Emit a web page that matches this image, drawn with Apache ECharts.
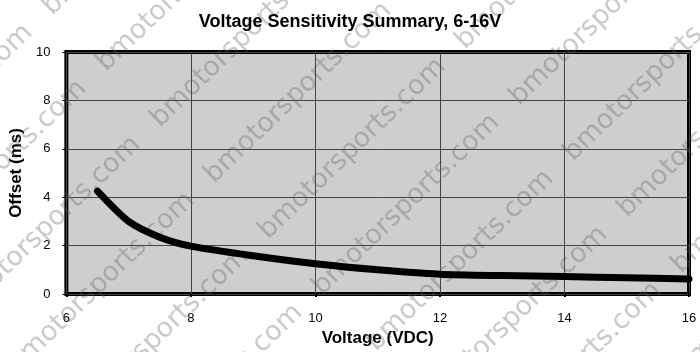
<!DOCTYPE html>
<html>
<head>
<meta charset="utf-8">
<title>Voltage Sensitivity Summary</title>
<script src="https://cdn.jsdelivr.net/npm/echarts@6/dist/echarts.min.js"></script>
<style>
  html, body { margin: 0; padding: 0; background: #fff; }
  #chart { width: 700px; height: 352px; }
</style>
</head>
<body>
<div id="chart"></div>
<script>
const voltage = [6.5, 7, 7.5, 8, 9, 10, 11, 12, 13, 14, 15, 16];
const offsetMs = [4.25, 3.0, 2.35, 1.98, 1.58, 1.25, 1.0, 0.82, 0.76, 0.72, 0.67, 0.62];

const xTicks = { min: 6, max: 16, step: 2 };
const yTicks = { min: 0, max: 10, step: 2 };

const chart = echarts.init(document.getElementById('chart'));

// diagonal watermark tiling
const watermark = [];
const angle = 44 * Math.PI / 180;
for (let i = -5; i <= 7; i++) {
  for (let j = -2; j <= 4; j++) {
    const x = 160 + i * 54 + j * 197;
    const y = 128 + i * 56 - j * 190;
    if (x < -260 || x > 700 || y < 0 || y > 580) continue;
    watermark.push({
      type: 'text',
      x: x,
      y: y,
      rotation: angle,
      z: 1,
      silent: true,
      style: {
        x: 0,
        y: -7,
        text: 'bmotorsports.com',
        font: '27px "DejaVu Sans"',
        fill: 'rgba(90,90,90,0.33)',
        align: 'left',
        verticalAlign: 'middle'
      }
    });
  }
}

chart.setOption({
  backgroundColor: '#fff',
  animation: false,
  title: {
    text: 'Voltage Sensitivity Summary, 6-16V',
    left: 'center',
    top: 8,
    textStyle: { fontFamily: 'Liberation Sans', fontSize: 18, fontWeight: 'bold', color: '#000' }
  },
  graphic: watermark,
  grid: {
    left: 65, right: 11, top: 52, bottom: 58,
    show: true,
    backgroundColor: '#cecece',
    borderColor: '#000',
    borderWidth: 4
  },
  xAxis: {
    type: 'value',
    min: xTicks.min, max: xTicks.max, interval: xTicks.step,
    name: 'Voltage (VDC)',
    nameLocation: 'middle',
    nameGap: 36,
    nameTextStyle: { fontFamily: 'Liberation Sans', fontSize: 17, fontWeight: 'bold', color: '#000' },
    axisLine: { show: false },
    axisTick: { show: true, length: 3, lineStyle: { color: '#000', width: 2 } },
    axisLabel: { margin: 18, fontFamily: 'Liberation Sans', fontSize: 13, color: '#000' },
    splitLine: { show: true, lineStyle: { color: '#444', width: 1 } }
  },
  yAxis: {
    type: 'value',
    min: yTicks.min, max: yTicks.max, interval: yTicks.step,
    name: 'Offset (ms)',
    nameLocation: 'middle',
    nameGap: 36,
    nameTextStyle: { fontFamily: 'Liberation Sans', fontSize: 17, fontWeight: 'bold', color: '#000' },
    axisLine: { show: false },
    axisTick: { show: true, length: 4, lineStyle: { color: '#000', width: 1 } },
    axisLabel: { margin: 16, fontFamily: 'Liberation Sans', fontSize: 13, color: '#000' },
    splitLine: { show: true, lineStyle: { color: '#444', width: 1 } }
  },
  series: [
    {
      type: 'line',
      data: voltage.map((v, i) => [v, offsetMs[i]]),
      showSymbol: false,
      smooth: 0.25,
      z: 3,
      lineStyle: { color: '#000', width: 7, cap: 'round', join: 'round' }
    }
  ]
});
</script>
</body>
</html>
